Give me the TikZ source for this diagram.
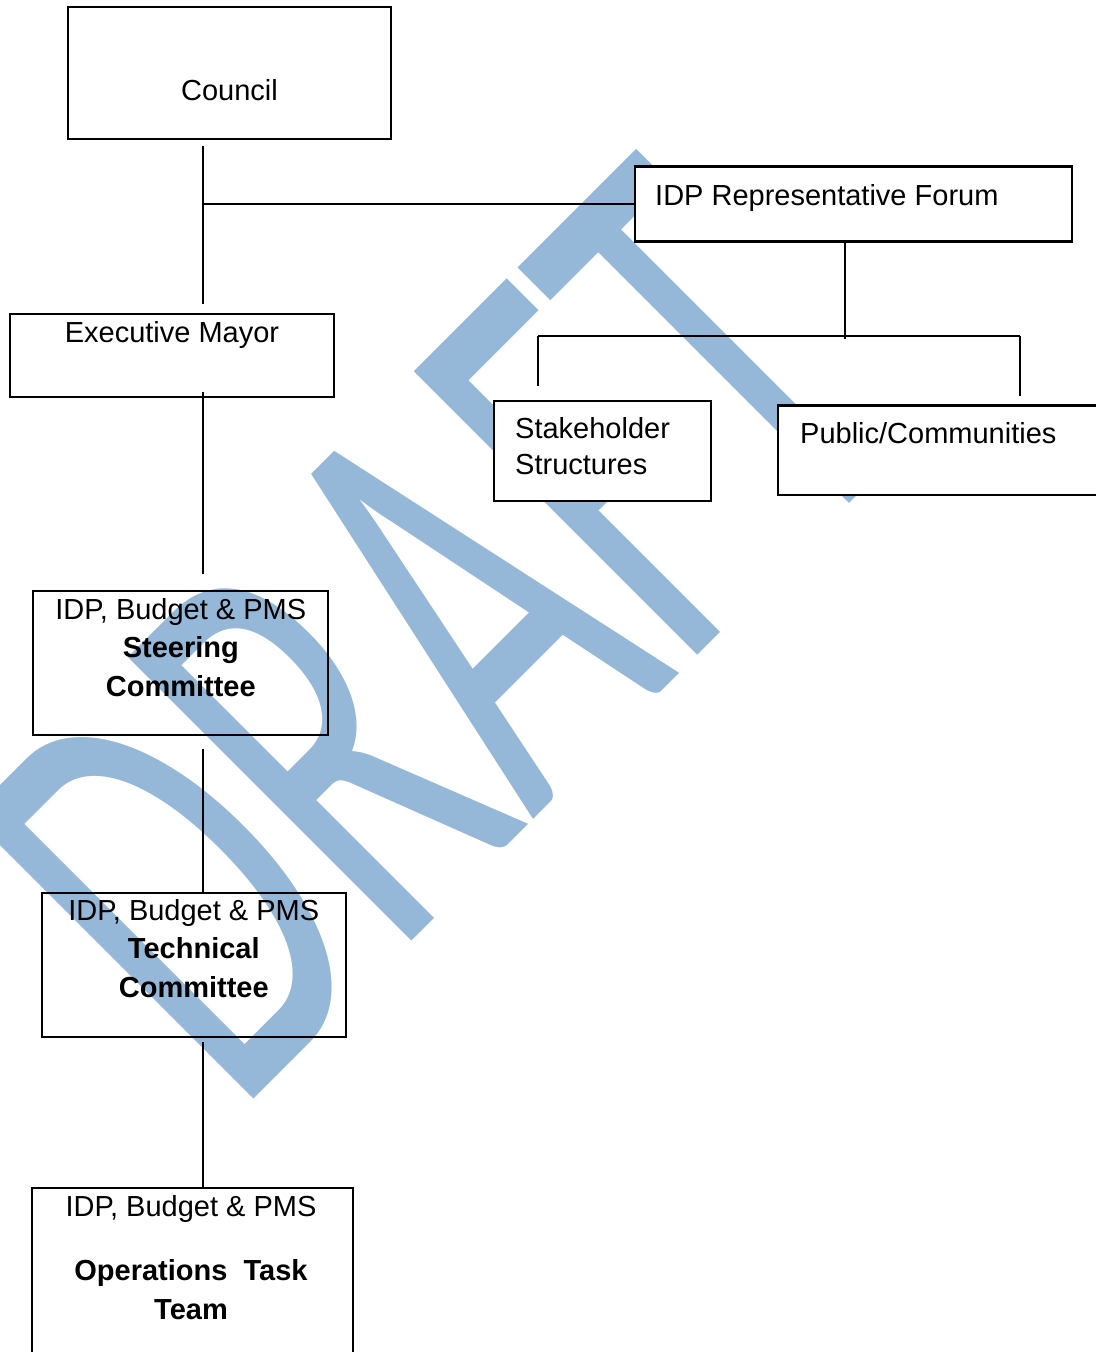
\documentclass[tikz,border=0pt]{standalone}
\usepackage{fontspec}
\setmainfont{Liberation Sans}
\newfontfamily\wmfont{Carlito}
\definecolor{wmblue}{RGB}{149,183,216}

\begin{document}
\begin{tikzpicture}[x=1pt,y=-1pt,
  box/.style={rectangle, draw=black, line width=2.3pt, fill=white, inner sep=0pt},
  openbox/.style={box, fill=none},
  lbl/.style={inner sep=0pt, anchor=base, font=\fontsize{29}{38.5}\selectfont},
  link/.style={draw=black, line width=1.8pt},
  wm/.style={rotate=45, anchor=base west, inner sep=0pt, text=wmblue,
    font=\wmfont\fontsize{625}{625}\selectfont},
]
\useasboundingbox (0,0) rectangle (1095,1352);

% background watermark
\node[wm] (draft) at (236,1117) {\scalebox{0.579}[1]{DRAFT}};

% boxes
\node[box, minimum width=323, minimum height=132] (council) at (229.5,73) {};
\node[box, minimum width=324, minimum height=83] (mayor) at (172,355.5) {};
\node[box, minimum width=437, minimum height=75] (forum) at (853.5,204) {};
\node[box, minimum width=217, minimum height=100] (stake) at (602.5,451) {};
\node[box, minimum width=352, minimum height=89.5] (public) at (954,450.25) {};
\node[openbox, minimum width=295, minimum height=144] (steer) at (180.8,662.7) {};
\node[openbox, minimum width=304.3, minimum height=144] (tech) at (193.85,964.7) {};
\node[box, minimum width=321, minimum height=212] (ops) at (192.5,1294) {};

% box texts (multi-line nodes sit on the baseline of their last line)
\node[lbl] (councilT) at (229.5,100) {Council};
\node[lbl] (mayorT) at (172,342) {Executive Mayor};
\node[lbl, anchor=base west] (forumT) at (655,205) {IDP Representative Forum};
\node[lbl, anchor=base west, align=left] (stakeT) at (515,474)
  {Stakeholder\\[-2.5pt]Structures};
\node[lbl, anchor=base west] (publicT) at (800,443) {Public/Communities};
\node[lbl, align=center] (steerT) at (180.8,696)
  {IDP, Budget \& PMS\\\textbf{Steering}\\\textbf{Committee}};
\node[lbl, align=center] (techT) at (193.8,997)
  {IDP, Budget \& PMS\\\textbf{Technical}\\\textbf{Committee}};
\node[lbl, align=center] (opsT) at (191,1319)
  {IDP, Budget \& PMS\\[25.5pt]\textbf{Operations\ \ Task}\\\textbf{Team}};

% connector guides
\coordinate (spine) at (203,0);
\coordinate (fork) at (845,0);
\coordinate (barL) at (538,336);
\coordinate (barR) at (1020,336);

% connectors
\draw[link] ([yshift=-6pt]council.south -| spine) -- ([yshift=9pt]mayor.north -| spine);
\draw[link] (spine |- forum.west) -- (forum.west);
\draw[link] ([yshift=6pt]mayor.south -| spine) -- ([yshift=16pt]steer.north -| spine);
\draw[link] ([yshift=-13pt]steer.south -| spine) -- (tech.north -| spine);
\draw[link] ([yshift=-4pt]tech.south -| spine) -- (ops.north -| spine);
\draw[link] (forum.south -| fork) -- ([yshift=-3pt]barL -| fork);
\draw[link] (barL) -- (barR);
\draw[link] (barL) -- ([yshift=14pt]stake.north -| barL);
\draw[link] (barR) -- ([yshift=8.5pt]public.north -| barR);
\end{tikzpicture}
\end{document}
